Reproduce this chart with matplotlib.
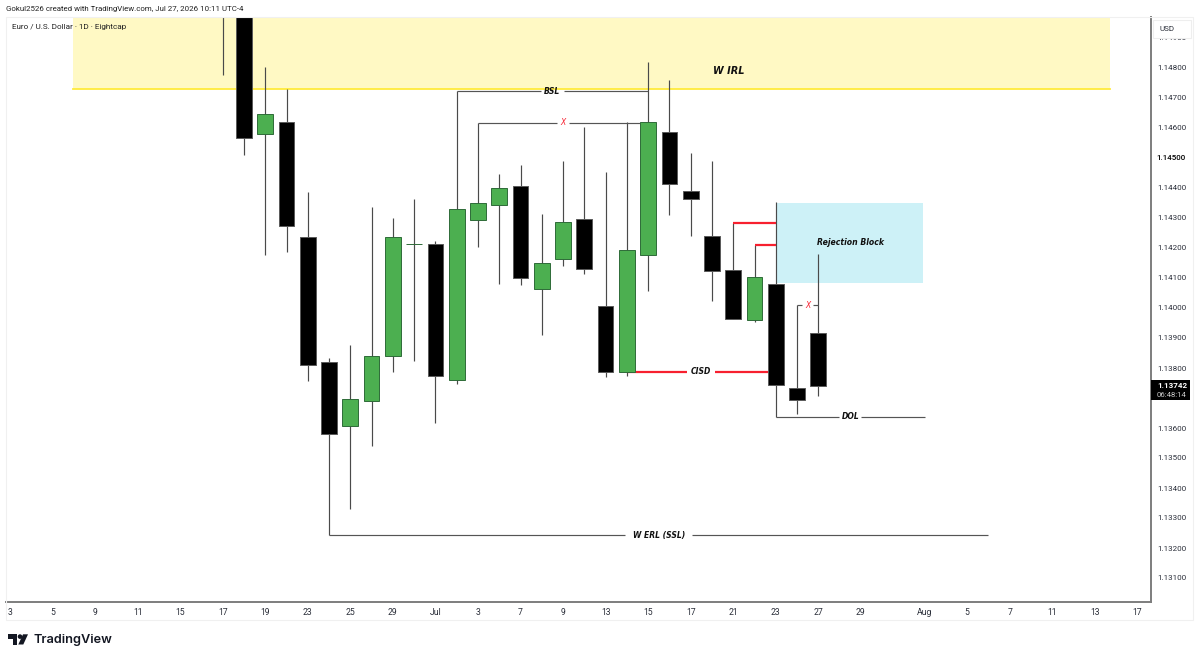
import numpy as np
import matplotlib
matplotlib.use("Agg")
import matplotlib.pyplot as plt
from matplotlib.patches import Rectangle, Polygon, Circle

# bar index 0 = first tick on the time axis
bar_idx = list(range(10, 39))
opens = [1.15150, 1.15020, 1.14580, 1.14620, 1.14237, 1.13820, 1.13607, 1.13690, 1.13840, 1.14213,
         1.14213, 1.13760, 1.14293, 1.14343, 1.14407, 1.14063, 1.14163, 1.14297, 1.14007, 1.13787,
         1.14177, 1.14587, 1.14390, 1.14240, 1.14127, 1.13960, 1.14080, 1.13733, 1.13917]
highs = [1.15200, 1.15100, 1.14803, 1.14730, 1.14387, 1.13833, 1.13877, 1.14337, 1.14300, 1.14363,
         1.14223, 1.14723, 1.14617, 1.14447, 1.14477, 1.14313, 1.14490, 1.14603, 1.14453, 1.14620,
         1.14820, 1.14760, 1.14517, 1.14490, 1.14283, 1.14210, 1.14353, 1.14010, 1.14180]
lows = [1.14777, 1.14510, 1.14177, 1.14187, 1.13757, 1.13243, 1.13330, 1.13540, 1.13787, 1.13823,
        1.13617, 1.13747, 1.14203, 1.14080, 1.14077, 1.13910, 1.14140, 1.14113, 1.13770, 1.13773,
        1.14057, 1.14310, 1.14240, 1.14023, 1.13963, 1.13953, 1.13637, 1.13647, 1.13707]
closes = [1.15020, 1.14567, 1.14647, 1.14273, 1.13810, 1.13580, 1.13697, 1.13840, 1.14237, 1.14213,
          1.13773, 1.14330, 1.14350, 1.14400, 1.14100, 1.14150, 1.14287, 1.14130, 1.13787, 1.14193,
          1.14620, 1.14413, 1.14363, 1.14123, 1.13963, 1.14103, 1.13743, 1.13693, 1.13740]

time_ticks = list(range(0, 41, 2)) + [43, 45, 47, 49, 51, 53]
time_labels = ["3", "5", "9", "11", "15", "17", "19", "23", "25", "29", "Jul", "3", "7", "9", "13",
               "15", "17", "21", "23", "27", "29", "Aug", "5", "7", "11", "13", "17"]
# 1.137 sits behind the last price box in the reference
price_ticks = [1.149, 1.148, 1.147, 1.146, 1.145, 1.144, 1.143, 1.142, 1.141,
               1.140, 1.139, 1.138, 1.136, 1.135, 1.134, 1.133, 1.132, 1.131]

# (x start, x end, price, label, label x)
dark_lines = [(21, 30, 1.14723, "BSL", 25.5),
              (22, 29.6, 1.14617, "X", 26),
              (36, 43, 1.13637, "DOL", 39.5),
              (15, 46, 1.13243, "W ERL (SSL)", 30.5),
              (37, 38, 1.14010, "X", 37.5)]
red_lines = [(29, 36, 1.13787, "CISD", 32.5),
             (34, 36, 1.14283, None, 0),
             (35, 36, 1.14210, None, 0)]

W, H = 1200, 659
AX_L, AX_R, AX_T, AX_B = 6, 1151, 17, 602
BLACK, GREEN, GREEN_EDGE = "#000000", "#4CAF50", "#2E6B38"
WICK = "#4a4a4a"
RED = "#F7202F"
TEXT = "#2a2e39"
FONT = "Roboto"
LABEL_FONT = "DejaVu Sans"


def draw_candles(ax):
    ox = np.array(opens)
    cl = np.array(closes)
    up = cl >= ox
    colors = [GREEN if u else BLACK for u in up]
    edges = [GREEN_EDGE if u else "#5a5a5a" for u in up]
    ax.vlines(bar_idx, lows, highs, color=WICK, lw=0.85, zorder=3)
    ax.bar(bar_idx, cl - ox, bottom=ox, width=0.74, color=colors, edgecolor=edges,
           linewidth=0.7, zorder=4)


def draw_level(ax, x0, x1, y, text, text_x, color, lw, text_color):
    if not text:
        ax.plot([x0, x1], [y, y], color=color, lw=lw, zorder=3, solid_capstyle="butt")
        return
    # the line breaks around its label
    gap = 0.14 + 0.13 * len(text)
    ax.plot([x0, text_x - gap], [y, y], color=color, lw=lw, zorder=3, solid_capstyle="butt")
    ax.plot([text_x + gap, x1], [y, y], color=color, lw=lw, zorder=3, solid_capstyle="butt")
    weight = "normal" if text == "X" else "bold"
    ax.text(text_x, y, text, color=text_color, fontsize=5.5, family=LABEL_FONT, weight=weight,
            style="italic", ha="center", va="center", zorder=6)


fig = plt.figure(figsize=(W / 100, H / 100), dpi=100, facecolor="white")
ax = fig.add_axes([AX_L / W, 1 - AX_B / H, (AX_R - AX_L) / W, (AX_B - AX_T) / H])
ax.set_xlim(-0.188, 53.64)
ax.set_ylim(1.1302, 1.1497)

# zones
ax.add_patch(Rectangle((2.96, 1.1473), 48.75, 0.01, facecolor="#FFF9C4", edgecolor="none", zorder=1))
ax.plot([2.96, 51.71], [1.1473, 1.1473], color="#FFEB3B", lw=1.3, zorder=1.5)
ax.add_patch(Rectangle((36, 1.14083), 6.92, 0.00267, facecolor="#CDF1F7", edgecolor="none", zorder=1))

draw_candles(ax)

for x0, x1, y, text, tx in dark_lines:
    tc = RED if text == "X" else "#111111"
    draw_level(ax, x0, x1, y, text, tx, "#555555", 0.85, tc)
for x0, x1, y, text, tx in red_lines:
    draw_level(ax, x0, x1, y, text, tx, RED, 1.6, "#111111")

ax.text(33.8, 1.1479, "W IRL", fontsize=7, family=LABEL_FONT, weight="bold", style="italic",
        color="#111111", ha="center", va="center", zorder=6)
ax.text(39.5, 1.14217, "Rejection Block", fontsize=5.6, family=LABEL_FONT, weight="bold", style="italic",
        color="#111111", ha="center", va="center", zorder=6)

# axes
ax.set_xticks(time_ticks)
ax.set_xticklabels(time_labels, fontsize=6.2, family=FONT, color=TEXT)
ax.yaxis.tick_right()
ax.set_yticks(price_ticks)
ax.set_yticklabels([f"{p:.5f}" for p in price_ticks], fontsize=5.8, family=FONT, color=TEXT)
ax.get_yticklabels()[price_ticks.index(1.145)].set_color("#000000")
ax.get_yticklabels()[price_ticks.index(1.145)].set_weight("medium")
ax.tick_params(axis="both", length=0)
ax.tick_params(axis="x", pad=4)
ax.tick_params(axis="y", pad=4.2)
ax.spines[["top", "left"]].set_visible(False)
for side in ["right", "bottom"]:
    ax.spines[side].set_color("#7d7d7d")
    ax.spines[side].set_linewidth(1.4)

# page furniture, placed in pixels
ov = fig.add_axes([0, 0, 1, 1], facecolor="none")
ov.set_xlim(0, W)
ov.set_ylim(H, 0)
ov.axis("off")
ov.add_patch(Rectangle((6, 17), 1187, 603, facecolor="none", edgecolor="#f0f0f0", lw=0.8))
ov.add_patch(Rectangle((1153, 20), 38, 18, facecolor="white", edgecolor="#eeeeee", lw=0.8))
ov.text(1159, 29, "USD", fontsize=5.8, family=FONT, color=TEXT, va="center")
ov.text(6, 9.5, "Gokul2526 created with TradingView.com, Jul 27, 2026 10:11 UTC-4", fontsize=5.7,
        family=FONT, color="#222222", va="center")
ov.text(12, 27, "Euro / U.S. Dollar · 1D · Eightcap", fontsize=5.9, family=FONT, color="#222222", va="center")

ov.add_patch(Rectangle((1151, 380), 39, 20, facecolor="black", edgecolor="none"))
ov.text(1157, 385.5, "1.13742", fontsize=5.8, family=FONT, color="white", weight="bold", va="center")
ov.text(1157, 395, "06:48:14", fontsize=5.6, family=FONT, color="#cccccc", va="center")

# logo
ov.add_patch(Polygon([(7.7, 634.3), (17.3, 634.3), (17.3, 644.5), (12.5, 644.5), (12.5, 638.7), (7.7, 638.7)],
                     facecolor="#131722", edgecolor="none"))
ov.add_patch(Circle((20, 636.6), 2.3, facecolor="#131722", edgecolor="none"))
ov.add_patch(Polygon([(23, 634.3), (28, 634.3), (23.3, 644.5), (18.3, 644.5)], facecolor="#131722", edgecolor="none"))
ov.text(33, 640, "TradingView", fontsize=9.2, family="Inter", weight="semibold", color="#131722", va="center")

fig.savefig("out.png", dpi=100)
